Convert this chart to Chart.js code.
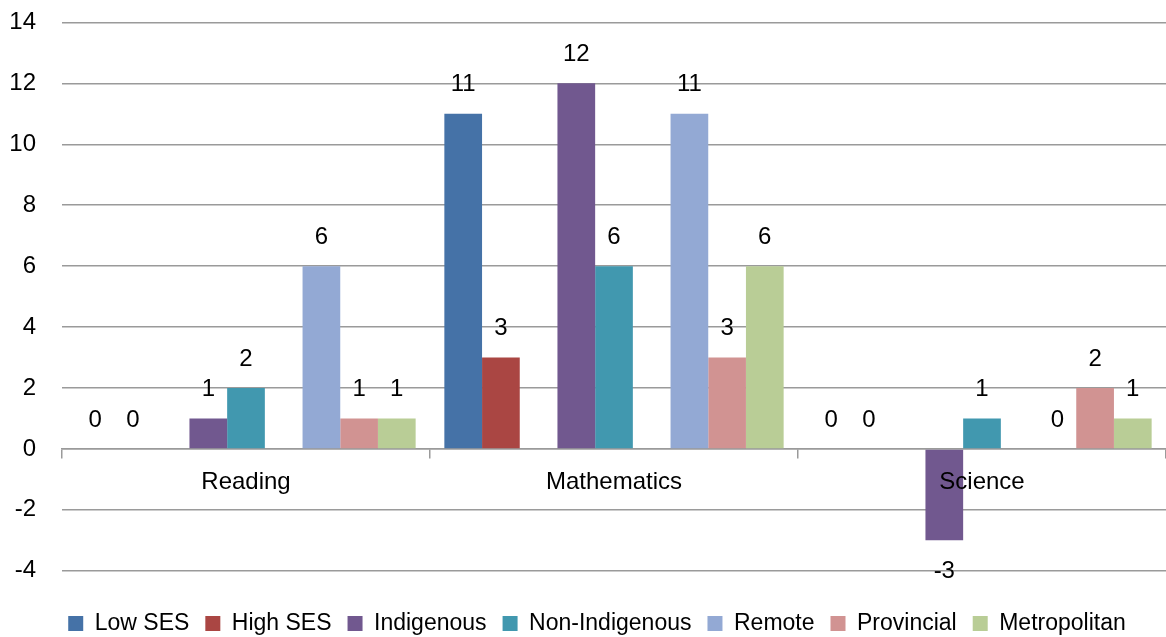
<!DOCTYPE html>
<html>
<head>
<meta charset="utf-8">
<script src="https://cdn.jsdelivr.net/npm/chart.js@4"></script>
<style>
  html, body { margin: 0; padding: 0; background: #ffffff; }
  #wrap { width: 1166px; height: 637px; overflow: hidden; }
  /* canvas is a bit taller and pulled up so the plot starts near the top edge */
  #chart { display: block; margin-top: -18px; }
</style>
</head>
<body>
<div id="wrap"><canvas id="chart" width="1166" height="655"></canvas></div>
<script>
// ---- data ----
const subjects = ["Reading", "Mathematics", "Science"];
const lowSES = [0, 11, 0];
const highSES = [0, 3, 0];
const indigenous = [1, 12, -3];
const nonIndigenous = [2, 6, 1];
const remote = [6, 11, 0];
const provincial = [1, 3, 2];
const metropolitan = [1, 6, 1];
const yTicks = [-4, -2, 0, 2, 4, 6, 8, 10, 12, 14];

const FONT = "'Liberation Sans', Arial, sans-serif";
const GRID = "#9a9a9a";

function series(label, data, color) {
    return { label, data, backgroundColor: color, borderWidth: 0 };
}
// empty columns the original sheet left between the groups
function spacer() {
    return { label: "", data: [null, null, null], backgroundColor: "transparent", spacer: true };
}

const datasets = [
    series("Low SES", lowSES, "#4572a7"),
    series("High SES", highSES, "#aa4643"),
    spacer(),
    series("Indigenous", indigenous, "#71588f"),
    series("Non-Indigenous", nonIndigenous, "#4198af"),
    spacer(),
    series("Remote", remote, "#93a9d4"),
    series("Provincial", provincial, "#d19392"),
    series("Metropolitan", metropolitan, "#b9cd96")
];

/* value labels above (or below) each bar */
const valueLabels = {
    id: "valueLabels",
    afterDatasetsDraw(chart) {
        const ctx = chart.ctx;
        ctx.save();
        ctx.font = "24px " + FONT;
        ctx.fillStyle = "#000000";
        ctx.textAlign = "center";
        ctx.textBaseline = "middle";
        chart.data.datasets.forEach((ds, i) => {
            if (ds.spacer) return;
            const meta = chart.getDatasetMeta(i);
            meta.data.forEach((bar, j) => {
                const v = ds.data[j];
                const y = v < 0 ? bar.y + 31 : bar.y - 29;
                ctx.fillText(String(v), bar.x, y);
            });
        });
        ctx.restore();
    }
};

/* the original legend sits a little right of centre */
const legendNudge = {
    id: "legendNudge",
    afterLayout(chart) {
        if (chart.legend) {
            chart.legend.left += 14;
            chart.legend.right += 14;
        }
    }
};

new Chart(document.getElementById("chart").getContext("2d"), {
    type: "bar",
    data: { labels: subjects, datasets },
    options: {
        responsive: false,
        animation: false,
        devicePixelRatio: 1,
        categoryPercentage: 0.922,
        barPercentage: 1,
        layout: { autoPadding: false, padding: { top: 22, right: 0, bottom: -8, left: 0 } },
        plugins: {
            legend: {
                position: "bottom",
                title: { display: true, text: " ", font: { size: 1 }, padding: { top: 0, bottom: 24 } },
                labels: {
                    boxWidth: 15,
                    boxHeight: 15,
                    padding: 16,
                    color: "#000000",
                    font: { family: FONT, size: 23 },
                    filter: item => item.text !== ""
                }
            },
            tooltip: { enabled: false }
        },
        scales: {
            x: {
                position: { y: 0 },
                afterFit: scale => { scale.height = 0; },
                grid: {
                    offset: true,
                    drawOnChartArea: false,
                    drawTicks: true,
                    tickLength: 9,
                    color: GRID,
                    lineWidth: 1.5
                },
                border: { display: true, color: GRID, width: 1.5 },
                ticks: {
                    z: 1,
                    color: "#000000",
                    padding: 10,
                    font: { family: FONT, size: 24 }
                }
            },
            y: {
                min: -4,
                max: 14,
                afterBuildTicks: scale => {
                    scale.ticks = yTicks.map(v => ({ value: v }));
                },
                afterFit: scale => { scale.width = 62; },
                grid: { color: GRID, lineWidth: 1.5, drawTicks: false },
                border: { display: false },
                ticks: {
                    color: "#000000",
                    padding: 26,
                    font: { family: FONT, size: 24 }
                }
            }
        }
    },
    plugins: [valueLabels, legendNudge]
});
</script>
</body>
</html>
